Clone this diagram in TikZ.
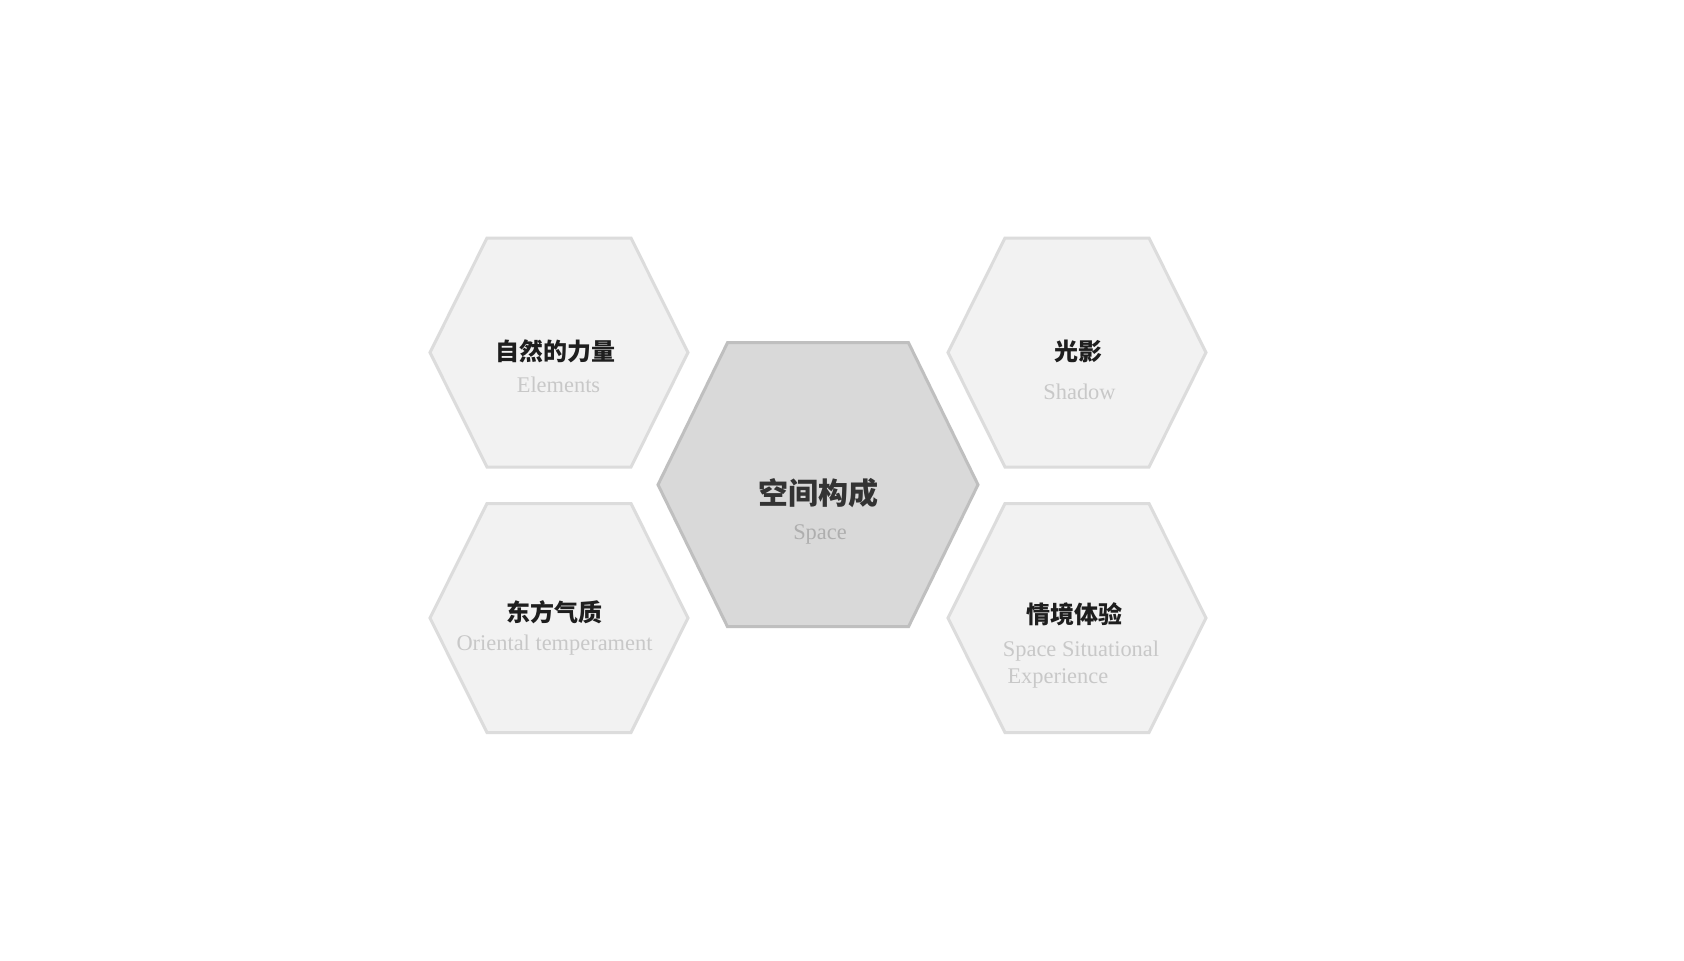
\documentclass[tikz,border=0pt]{standalone}
\usepackage{fontspec}
\setmainfont{Liberation Serif}
\newfontfamily\cjk{Noto Sans CJK SC}
\definecolor{hexfill}{HTML}{F2F2F2}
\definecolor{hexline}{HTML}{DCDCDC}
\definecolor{midfill}{HTML}{D9D9D9}
\definecolor{midline}{HTML}{BFBFBF}
\definecolor{cntext}{HTML}{1E1E1E}
\definecolor{midcn}{HTML}{333333}
\definecolor{entext}{HTML}{C8C8C8}
\definecolor{miden}{HTML}{AEAEAE}
\newcommand{\hexshape}[6]{%
  \path[#6] ({#1-#3},#2) -- ({#1-#4},{#2-#5}) -- ({#1+#4},{#2-#5}) -- ({#1+#3},#2)
    -- ({#1+#4},{#2+#5}) -- ({#1-#4},{#2+#5}) -- cycle;}
\begin{document}
\begin{tikzpicture}[x=1pt,y=-1pt,
  smallhex/.style={fill=hexfill,draw=hexline,line width=3pt,line join=miter},
  bighex/.style={fill=midfill,draw=midline,line width=3pt,line join=miter},
  cnlabel/.style={anchor=base,inner sep=0pt,text=cntext,font=\cjk\bfseries\fontsize{24}{28}\selectfont},
  cnbig/.style={anchor=base,inner sep=0pt,text=midcn,font=\cjk\bfseries\fontsize{30}{36}\selectfont},
  enlabel/.style={anchor=base,inner sep=0pt,text=entext,font=\fontsize{22.4}{27}\selectfont},
  enbig/.style={anchor=base,inner sep=0pt,text=miden,font=\fontsize{22.4}{27}\selectfont}]
\useasboundingbox (0,0) rectangle (1684,961);
\fill[white] (0,0) rectangle (1684,961);
% hexagons
\hexshape{559}{352.5}{129}{72}{114.5}{smallhex}
\hexshape{559}{618}{129}{72}{114.5}{smallhex}
\hexshape{1077}{352.5}{129}{72}{114.5}{smallhex}
\hexshape{1077}{618}{129}{72}{114.5}{smallhex}
\hexshape{818}{484.7}{160}{90.5}{142}{bighex}
% labels
\node[cnlabel] (tlcn) at (555,360) {自然的力量};
\node[enlabel] (tlen) at (558.5,392.7) {Elements};
\node[cnbig] (mcn) at (818,504.4) {空间构成};
\node[enbig] (men) at (820,539.3) {Space};
\node[cnlabel] (blcn) at (554,621.7) {东方气质};
\node[enlabel] (blen) at (554.5,650) {Oriental temperament};
\node[cnlabel] (trcn) at (1078,360.5) {光影};
\node[enlabel] (tren) at (1079.5,399) {Shadow};
\node[cnlabel] (brcn) at (1074.5,623) {情境体验};
\node[enlabel,anchor=base west] (bren1) at (1002.7,656) {Space Situational};
\node[enlabel,anchor=base west] (bren2) at (1007.3,683) {Experience};
\end{tikzpicture}
\end{document}
